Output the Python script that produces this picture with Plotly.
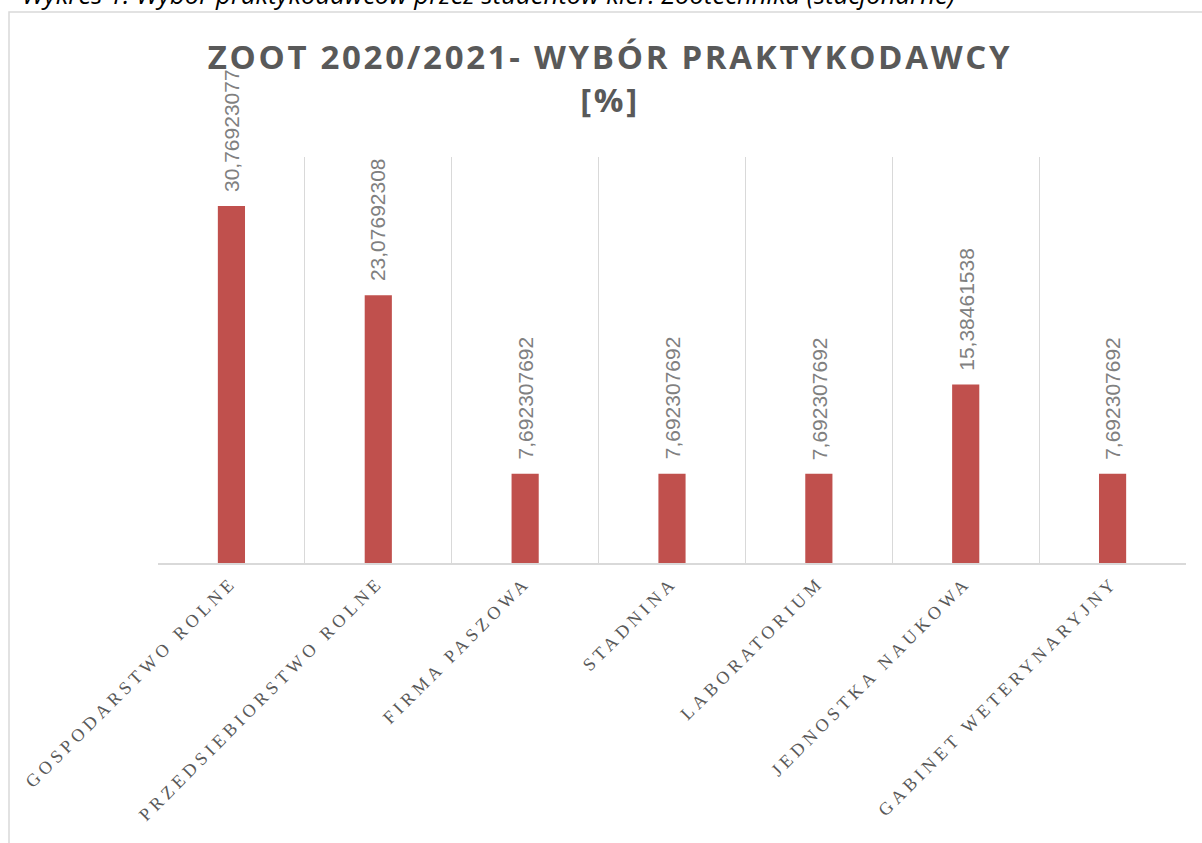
import plotly.graph_objects as go

categories = [
    "GOSPODARSTWO ROLNE",
    "PRZEDSIEBIORSTWO ROLNE",
    "FIRMA PASZOWA",
    "STADNINA",
    "LABORATORIUM",
    "JEDNOSTKA NAUKOWA",
    "GABINET WETERYNARYJNY",
]
values = [30.76923077, 23.07692308, 7.692307692, 7.692307692, 7.692307692, 15.38461538, 7.692307692]
value_labels = [f"{v:.10g}".replace(".", ",") for v in values]

title_line1 = "ZOOT 2020/2021- WYBÓR PRAKTYKODAWCY"
title_line2 = "[%]"
caption = "Wykres 1. Wybór praktykodawców przez studentów kier. Zootechnika (stacjonarne)"

W, H = 1202, 843
L, R, T, B = 158, 16, 157, 280
PW, PH = W - L - R, H - T - B

fig = go.Figure()
fig.add_trace(go.Bar(
    x=categories, y=values,
    marker=dict(color="#C0504D", line=dict(width=0)),
    width=0.185,
    hoverinfo="x+y",
))

for c, v, t in zip(categories, values, value_labels):
    fig.add_annotation(
        x=c, y=v, xref="x", yref="y", text=t, showarrow=False,
        textangle=-90, yanchor="bottom", xanchor="center", yshift=12,
        font=dict(family="Liberation Sans, Arial", size=21, color="#808080"),
    )

ticktext = [f'<span style="letter-spacing:4.3px">{c}</span>' for c in categories]

fig.update_layout(
    width=W, height=H,
    margin=dict(l=L, r=R, t=T, b=B, autoexpand=False),
    paper_bgcolor="white", plot_bgcolor="white",
    showlegend=False,
    title=dict(
        text=f'<span style="letter-spacing:2.7px"><b>{title_line1}</b><br><b>{title_line2}</b></span>',
        x=610 / W, xref="container", xanchor="center",
        y=1 - 69 / H, yref="container", yanchor="top",
        font=dict(family="Open Sans", size=33, color="#595959"),
    ),
    xaxis=dict(
        type="category",
        tickmode="array", tickvals=categories, ticktext=ticktext,
        tickson="boundaries",
        showgrid=True, gridcolor="#D9D9D9", gridwidth=1.3,
        showline=True, linecolor="#D9D9D9", linewidth=1.5,
        ticks="", tickangle=-45,
        tickfont=dict(family="Liberation Serif, DejaVu Serif, serif", size=18, color="#595959"),
        range=[-0.5, len(categories) - 0.5],
        fixedrange=True,
    ),
    yaxis=dict(
        range=[0, 35], showgrid=False, showticklabels=False, zeroline=False,
        showline=False, ticks="", fixedrange=True,
    ),
)

# chart frame (extends past the page on the right and bottom)
fig.add_shape(
    type="rect", xref="paper", yref="paper",
    x0=(9 - L) / PW, x1=1.2,
    y0=-1.0, y1=(H - B - 12) / PH,
    line=dict(color="#D9D9D9", width=1.5), fillcolor="rgba(0,0,0,0)", layer="below",
)

# caption above the chart, cut off by the page top as in the reference
fig.add_annotation(
    text=f"<i>{caption}</i>", xref="paper", yref="paper",
    x=(20 - L) / PW, xanchor="left",
    y=(H - B - 14) / PH, yanchor="bottom",
    showarrow=False,
    font=dict(family="Open Sans", size=25.7, color="#000000"),
)

fig.write_html(
    "out.html",
    config={"displayModeBar": False},
    post_script="document.body.style.margin='0';document.body.style.overflow='hidden';",
)
